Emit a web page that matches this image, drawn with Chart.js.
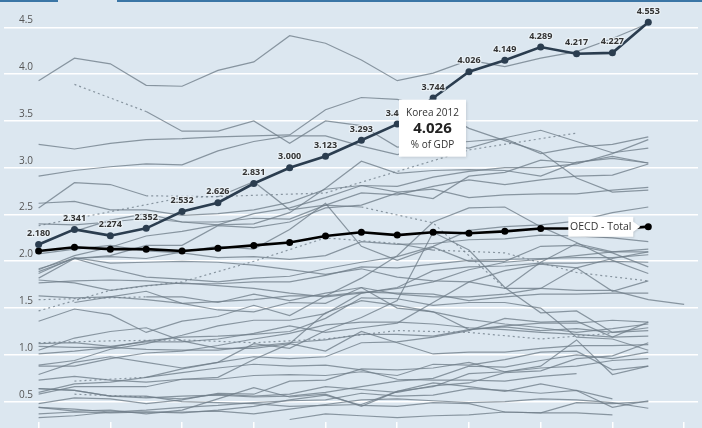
<!DOCTYPE html>
<html><head><meta charset="utf-8">
<script src="https://cdn.jsdelivr.net/npm/chart.js@4.4.1/dist/chart.umd.min.js"></script>
<style>
html,body{margin:0;padding:0;background:#dce7f0;overflow:hidden}
#wrap{position:relative;width:702px;height:428px;background:#dce7f0}
canvas{display:block}
.topbar{position:absolute;top:0;height:2px;background:#3b76a6}
</style></head><body>
<div id="wrap"><canvas id="c" width="702" height="428"></canvas>
<div class="topbar" style="left:0;width:58px"></div>
<div class="topbar" style="left:117px;width:585px"></div>
</div>
<script>
const years = [2000,2001,2002,2003,2004,2005,2006,2007,2008,2009,2010,2011,2012,2013,2014,2015,2016,2017,2018];
const xTicks = [2000,2002,2004,2006,2008,2010,2012,2014,2016,2018];
const yTicks = [0.5,1.0,1.5,2.0,2.5,3.0,3.5,4.0,4.5];

const korea = [2.180,2.341,2.274,2.352,2.532,2.626,2.831,3.000,3.123,3.293,3.466,3.744,4.026,4.149,4.289,4.217,4.227,4.553,null];
const oecdTotal = [2.11,2.15,2.13,2.13,2.11,2.14,2.17,2.20,2.27,2.31,2.28,2.31,2.30,2.32,2.35,2.35,2.34,2.37,null];

const israel = [3.93,4.17,4.11,3.88,3.87,4.04,4.13,4.41,4.33,4.15,3.93,4.01,4.15,4.08,4.17,4.24,4.38,4.54,null];
const sweden = [null,3.89,null,3.60,3.39,3.39,3.50,3.26,3.50,3.45,3.22,3.25,3.28,3.31,3.15,3.22,3.25,3.33,null];
const finland = [3.25,3.20,3.26,3.30,3.31,3.33,3.34,3.35,3.62,3.75,3.73,3.64,3.42,3.29,3.17,2.89,2.74,2.76,null];
const japan = [2.91,2.97,3.01,3.04,3.03,3.18,3.28,3.34,3.34,3.23,3.14,3.24,3.21,3.32,3.40,3.28,3.16,3.21,null];
const switzerland = [2.38,null,null,null,2.68,null,null,null,2.73,null,null,null,3.19,null,null,3.37,null,null,null];
const usa = [2.62,2.64,2.55,2.55,2.49,2.51,2.55,2.63,2.77,2.81,2.74,2.77,2.68,2.71,2.72,2.72,2.76,2.79,null];
const germany = [2.40,2.39,2.42,2.46,2.42,2.42,2.46,2.45,2.60,2.73,2.71,2.80,2.87,2.82,2.87,2.91,2.92,3.04,null];
const denmark = [null,2.32,2.44,2.51,2.42,2.39,2.40,2.52,2.78,3.07,2.94,2.97,2.98,2.97,2.91,3.06,3.10,3.05,null];
const austria = [1.89,2.03,2.06,2.17,2.17,2.38,2.36,2.42,2.57,2.60,2.73,2.67,2.91,2.95,3.08,3.05,3.12,3.05,null];
const taipei = [1.91,2.06,2.15,2.27,2.32,2.39,2.51,2.57,2.68,2.81,2.80,2.90,2.96,3.00,3.00,3.04,3.15,3.30,null];
const iceland = [2.57,2.84,2.82,2.70,null,2.69,2.85,2.55,2.60,2.58,null,2.41,null,1.71,1.99,2.19,2.10,2.10,null];
const belgium = [1.92,2.03,1.92,1.83,1.81,1.78,1.82,1.84,1.92,1.99,2.05,2.16,2.33,2.37,2.39,2.43,2.52,2.58,null];
const france = [2.08,2.13,2.17,2.11,2.09,2.04,2.05,2.02,2.06,2.21,2.18,2.19,2.23,2.24,2.28,2.27,2.25,2.21,null];
const singapore = [1.82,2.03,2.05,2.03,2.10,2.16,2.13,2.34,2.62,2.16,2.01,2.15,2.00,2.00,2.16,2.17,2.09,1.94,null];
const canada = [1.87,2.04,1.98,1.99,2.00,1.99,1.96,1.91,1.86,1.92,1.83,1.79,1.78,1.71,1.71,1.69,1.69,1.59,1.54];
const australia = [1.47,null,1.69,null,1.78,null,2.00,null,2.25,null,2.19,2.12,null,2.09,null,1.88,null,1.79,null];
const eu28 = [1.77,1.79,1.80,1.79,1.76,1.76,1.78,1.78,1.85,1.94,1.93,1.97,2.01,2.02,2.03,2.04,2.04,2.07,null];
const netherlands = [1.80,1.77,1.69,1.74,1.77,1.74,1.71,1.66,1.62,1.66,1.72,1.90,1.94,1.95,1.98,1.98,2.00,1.99,null];
const uk = [1.63,1.61,1.62,1.59,1.55,1.57,1.59,1.63,1.63,1.67,1.66,1.65,1.58,1.62,1.65,1.65,1.66,1.66,null];
const norway = [null,1.56,1.62,1.68,1.55,1.48,1.46,1.56,1.55,1.72,1.65,1.62,1.62,1.65,1.71,1.93,2.03,2.10,null];
const luxembourg = [1.59,null,null,1.62,1.62,1.56,1.65,1.58,1.66,1.72,1.50,1.46,1.27,1.30,1.26,1.28,1.24,1.26,null];
const slovenia = [1.36,1.49,1.43,1.24,1.36,1.41,1.53,1.42,1.63,1.82,2.06,2.42,2.57,2.58,2.37,2.20,2.01,1.87,null];
const estonia = [0.60,0.69,0.71,0.76,0.85,0.92,1.12,1.07,1.26,1.40,1.58,2.31,2.12,1.72,1.45,1.47,1.24,1.29,null];
const czechia = [1.12,1.13,1.09,1.14,1.14,1.17,1.23,1.31,1.24,1.29,1.34,1.56,1.78,1.90,1.97,1.93,1.68,1.79,null];
const china = [0.89,0.94,1.06,1.12,1.21,1.31,1.37,1.37,1.44,1.66,1.71,1.78,1.91,1.99,2.02,2.06,2.10,2.13,null];
const ireland = [1.09,1.08,1.08,1.15,1.19,1.20,1.22,1.25,1.39,1.61,1.60,1.53,1.56,1.56,1.50,1.19,1.17,1.05,null];
const portugal = [0.73,0.77,0.73,0.71,0.74,0.76,0.95,1.12,1.45,1.58,1.53,1.46,1.38,1.33,1.29,1.24,1.28,1.33,null];
const italy = [1.01,1.04,1.08,1.06,1.05,1.05,1.09,1.13,1.16,1.22,1.22,1.20,1.27,1.31,1.34,1.34,1.37,1.35,null];
const spain = [0.88,0.88,0.96,1.02,1.04,1.10,1.17,1.23,1.32,1.35,1.35,1.33,1.29,1.27,1.24,1.22,1.19,1.20,null];
const newZealand = [1.13,null,1.15,null,1.16,null,1.13,null,1.17,null,1.26,null,1.24,null,1.17,null,1.23,null,null];
const russia = [1.05,1.18,1.25,1.29,1.15,1.07,1.07,1.12,1.04,1.25,1.13,1.01,1.03,1.03,1.07,1.10,1.10,1.11,null];
const hungary = [0.79,0.92,0.98,0.92,0.86,0.92,0.98,0.96,0.98,1.13,1.14,1.19,1.26,1.39,1.35,1.36,1.19,1.35,null];
const southAfrica = [null,0.72,null,0.76,0.81,0.86,0.90,0.88,0.89,0.84,0.74,0.73,0.73,0.72,0.77,0.80,null,null,null];
const poland = [0.64,0.62,0.56,0.54,0.56,0.57,0.55,0.56,0.60,0.66,0.72,0.75,0.88,0.87,0.94,1.00,0.96,1.03,null];
const slovakia = [0.64,0.62,0.56,0.56,0.50,0.49,0.48,0.45,0.46,0.47,0.61,0.66,0.80,0.82,0.88,1.16,0.79,0.88,null];
const lithuania = [0.58,0.66,0.66,0.66,0.74,0.74,0.78,0.79,0.78,0.82,0.78,0.90,0.89,0.95,1.03,1.04,0.84,0.88,null];
const greece = [null,0.58,null,0.55,0.53,0.58,0.56,0.58,0.66,0.63,0.60,0.67,0.70,0.81,0.83,0.96,0.99,1.13,null];
const turkey = [0.48,0.54,0.53,0.48,0.52,0.59,0.58,0.72,0.73,0.85,0.84,0.86,0.92,0.82,0.86,0.88,0.94,0.96,null];
const latvia = [0.44,0.40,0.41,0.37,0.41,0.53,0.65,0.55,0.58,0.45,0.61,0.70,0.66,0.61,0.69,0.62,0.44,0.51,null];
const argentina = [0.44,0.42,0.39,0.41,0.44,0.46,0.49,0.51,0.52,0.59,0.56,0.57,0.64,0.62,0.59,0.62,0.53,null,null];
const romania = [0.37,0.39,0.38,0.39,0.38,0.41,0.45,0.52,0.57,0.46,0.45,0.49,0.48,0.39,0.38,0.49,0.48,0.50,null];
const mexico = [0.33,0.35,0.39,0.39,0.39,0.40,0.37,0.42,0.47,0.52,0.53,0.51,0.49,0.50,0.53,0.52,0.49,0.43,null];
const chile = [null,null,null,null,null,null,null,0.31,0.37,0.35,0.33,0.35,0.36,0.39,0.38,0.38,0.36,null,null];

const others = [
  ['Israel',israel],['Sweden',sweden],['Finland',finland],['Japan',japan],['Switzerland',switzerland],
  ['United States',usa],['Germany',germany],['Denmark',denmark],['Austria',austria],['Chinese Taipei',taipei],
  ['Iceland',iceland],['Belgium',belgium],['France',france],['Singapore',singapore],['Canada',canada],
  ['Australia',australia],['EU28',eu28],['Netherlands',netherlands],['United Kingdom',uk],['Norway',norway],
  ['Luxembourg',luxembourg],['Slovenia',slovenia],['Estonia',estonia],['Czech Republic',czechia],['China',china],
  ['Ireland',ireland],['Portugal',portugal],['Italy',italy],['Spain',spain],['New Zealand',newZealand],
  ['Russia',russia],['Hungary',hungary],['South Africa',southAfrica],['Poland',poland],['Slovak Republic',slovakia],
  ['Lithuania',lithuania],['Greece',greece],['Turkey',turkey],['Latvia',latvia],['Argentina',argentina],
  ['Romania',romania],['Mexico',mexico],['Chile',chile]
];

const tipIndex = 12;
const GREY = 'rgba(112,126,137,0.78)';
const gapDash = ctx => (ctx.p0.skip || ctx.p1.skip) ? [2,3] : undefined;

Chart.defaults.font.family = '"Open Sans", "DejaVu Sans", sans-serif';

const datasets = [
  { label:'Korea', data:korea, borderColor:'#2b3d4f', backgroundColor:'#2b3d4f', borderWidth:2.6,
    pointRadius:3.5, pointBorderWidth:0, pointBackgroundColor:'#2b3d4f', spanGaps:false },
  { label:'OECD - Total', data:oecdTotal, borderColor:'#000', backgroundColor:'#000', borderWidth:2.6,
    pointRadius:3.5, pointBorderWidth:0, pointBackgroundColor:'#000', spanGaps:false }
];
others.forEach(([name, arr]) => datasets.push({
  label:name, data:arr, borderColor:GREY, borderWidth:1.2, pointRadius:0, spanGaps:true,
  segment:{ borderDash: gapDash }
}));

const labelPlugin = {
  id:'koreaLabels',
  afterDatasetsDraw(chart){
    const ctx = chart.ctx;
    const meta = chart.getDatasetMeta(0);
    ctx.save();
    ctx.font = 'bold 9px "Open Sans", sans-serif';
    ctx.textAlign = 'center';
    ctx.textBaseline = 'middle';
    ctx.lineJoin = 'round';
    meta.data.forEach((pt, i) => {
      const v = korea[i];
      if (v == null) return;
      const t = v.toFixed(3);
      ctx.lineWidth = 2.5;
      ctx.strokeStyle = 'rgba(235,242,247,0.85)';
      ctx.strokeText(t, pt.x, pt.y - 11);
      ctx.fillStyle = '#333';
      ctx.fillText(t, pt.x, pt.y - 11);
    });
    ctx.restore();
  },
  afterDraw(chart){
    const ctx = chart.ctx;
    // OECD total label
    const om = chart.getDatasetMeta(1);
    let li = oecdTotal.length - 1; while (oecdTotal[li] == null) li--;
    const op = om.data[li];
    ctx.save();
    const bw = 65, bh = 20, bx = op.x - 15 - bw, by = op.y - bh/2;
    ctx.shadowColor = 'rgba(0,0,0,0.12)'; ctx.shadowBlur = 2; ctx.shadowOffsetX = 1; ctx.shadowOffsetY = 1;
    ctx.fillStyle = '#fff';
    ctx.beginPath();
    ctx.moveTo(bx, by); ctx.lineTo(bx + bw, by); ctx.lineTo(bx + bw, op.y - 5);
    ctx.lineTo(bx + bw + 7, op.y); ctx.lineTo(bx + bw, op.y + 5); ctx.lineTo(bx + bw, by + bh);
    ctx.lineTo(bx, by + bh); ctx.closePath(); ctx.fill();
    ctx.shadowColor = 'transparent';
    ctx.fillStyle = '#333'; ctx.font = '10.5px "Open Sans", sans-serif';
    ctx.textAlign = 'center'; ctx.textBaseline = 'middle';
    ctx.fillText(chart.data.datasets[1].label, bx + bw/2, op.y + 0.5);
    ctx.restore();

    // Korea tooltip
    const km = chart.getDatasetMeta(0);
    const p = km.data[tipIndex];
    const w = 67, h = 57, x = p.x - 70, y = p.y + 28;
    ctx.save();
    ctx.shadowColor = 'rgba(0,0,0,0.15)'; ctx.shadowBlur = 3; ctx.shadowOffsetX = 1; ctx.shadowOffsetY = 1;
    ctx.fillStyle = '#fff';
    ctx.fillRect(x, y, w, h);
    ctx.shadowColor = 'transparent';
    ctx.textAlign = 'center'; ctx.textBaseline = 'middle';
    ctx.fillStyle = '#333';
    ctx.font = '10px "Open Sans", sans-serif';
    ctx.fillText('Korea ' + years[tipIndex], x + w/2, y + 13);
    ctx.font = 'bold 15px "Open Sans", sans-serif';
    ctx.fillStyle = '#222';
    ctx.fillText(korea[tipIndex].toFixed(3), x + w/2, y + 29);
    ctx.font = '10px "Open Sans", sans-serif';
    ctx.fillStyle = '#333';
    ctx.fillText('% of GDP', x + w/2, y + 45);
    ctx.restore();
  }
};

new Chart(document.getElementById('c'), {
  type:'line',
  data:{ labels:years, datasets },
  options:{
    responsive:false, animation:false,
    layout:{ padding:{ top:4, left:0, right:0, bottom:0 } },
    plugins:{ legend:{display:false}, tooltip:{enabled:false} },
    elements:{ line:{ tension:0 } },
    scales:{
      x:{ type:'linear', min:1999.035, max:2018.386,
        border:{display:false},
        grid:{ drawOnChartArea:false, drawTicks:true, tickLength:6, color:'#ffffff', lineWidth:1.5 },
        ticks:{ display:false },
        afterBuildTicks:s => { s.ticks = xTicks.map(v => ({value:v})); },
        afterFit:s => { s.paddingLeft = 0; s.paddingRight = 0; s.height = 6; }
      },
      y:{ type:'linear', min:0.283, max:4.749, position:'left',
        border:{display:false},
        grid:{ color:'#ffffff', lineWidth:1.6, drawTicks:false },
        ticks:{ mirror:true, padding:15, labelOffset:-7, color:'#555', font:{size:10},
          callback:v => Number(v).toFixed(1) },
        afterBuildTicks:s => { s.ticks = yTicks.map(v => ({value:v})); },
        afterFit:s => { s.width = 0; s.paddingTop = 0; s.paddingBottom = 0; }
      }
    }
  },
  plugins:[labelPlugin]
});
</script>
</body></html>
